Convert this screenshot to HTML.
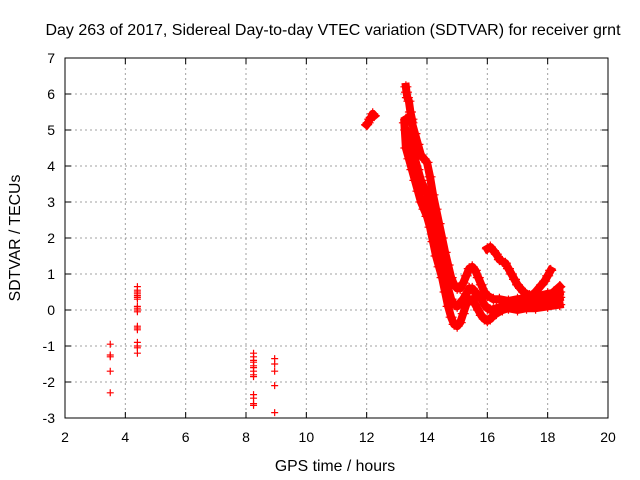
<!DOCTYPE html>
<html><head><meta charset="utf-8"><style>
body{margin:0;background:#fff}
svg{display:block;font-family:"Liberation Sans",sans-serif}
</style></head><body>
<svg id="chart" width="640" height="480">
<text x="333" y="35" text-anchor="middle" font-size="16">Day 263 of 2017, Sidereal Day-to-day VTEC variation (SDTVAR) for receiver grnt</text>
<text x="335" y="471" text-anchor="middle" font-size="15.8">GPS time / hours</text>
<text transform="translate(20,238) rotate(-90)" text-anchor="middle" font-size="15.8">SDTVAR / TECUs</text>
<g id="grid"></g><g id="ticks"></g><g id="lines"></g><g id="marks"></g>
<rect x="65" y="58" width="543" height="360" fill="none" stroke="#000" stroke-width="1"/>
</svg>
<script>
const xTicks=[2,4,6,8,10,12,14,16,18,20];
const yTicks=[-3,-2,-1,0,1,2,3,4,5,6,7];
const scatterT=[3.5,3.5,3.5,3.5,3.5,
4.4,4.4,4.4,4.4,4.4,4.4,4.4,4.4,4.4,4.4,4.4,4.4,4.4,4.4,4.4,4.4,4.4,4.4,
8.25,8.25,8.25,8.25,8.25,8.25,8.25,8.25,8.25,8.25,8.25,8.25,8.25,
8.95,8.95,8.95,8.95,8.95];
const scatterV=[-0.95,-1.25,-1.3,-1.7,-2.3,
0.65,0.55,0.5,0.45,0.4,0.35,0.3,0.1,0.05,0.0,-0.05,-0.45,-0.5,-0.55,-0.9,-1.0,-1.05,-1.2,
-1.2,-1.3,-1.4,-1.45,-1.55,-1.6,-1.7,-1.8,-1.85,-2.35,-2.45,-2.6,-2.65,
-1.35,-1.5,-1.7,-2.1,-2.85];
const trackA_T=[12.0,12.05,12.1,12.15,12.2,12.25];
const trackA_V=[5.15,5.2,5.3,5.35,5.45,5.4];
const track1_T=[13.25,13.3,13.4,13.5,13.6,13.7,13.8,13.9,14.0,14.1,14.2,14.3,14.4,14.5,14.6,14.7,14.8,14.9,15.0,15.1,15.2,15.3,15.4,15.5,15.6,15.7,15.8,15.9,16.0,16.1,16.2,16.3,16.5,16.7,17.0,17.3,17.6,18.0,18.4];
const track1_V=[5.2,4.5,4.2,3.9,3.6,3.3,3.0,2.8,2.6,2.3,1.9,1.5,1.2,0.9,0.5,0.1,-0.2,-0.4,-0.45,-0.35,-0.1,0.15,0.3,0.3,0.15,0.0,-0.15,-0.25,-0.3,-0.25,-0.15,-0.1,0.0,0.05,0.0,0.05,0.05,0.1,0.15];
const track2_T=[13.3,13.4,13.5,13.6,13.7,13.8,13.9,14.0,14.1,14.2,14.3,14.4,14.5,14.6,14.7,14.8,14.9,15.0,15.1,15.2,15.3,15.4,15.5,15.6,15.7,15.8,15.9,16.0,16.2,16.4,16.7,17.0,17.5,18.0,18.4];
const track2_V=[5.3,5.35,5.2,4.9,4.6,4.3,4.2,4.1,3.7,3.2,2.8,2.4,2.0,1.6,1.25,0.9,0.7,0.6,0.6,0.75,0.95,1.15,1.2,1.1,0.9,0.7,0.5,0.4,0.3,0.3,0.25,0.3,0.35,0.45,0.5];
const track3_T=[13.3,13.4,13.5,13.6,13.7,13.8,13.9,14.0,14.1,14.2,14.3,14.4,14.5,14.6,14.7,14.8,14.9,15.0,15.1,15.2,15.3,15.4,15.5,15.6,15.7,15.8,15.9,16.0,16.1,16.3,16.5,16.8,17.0,17.5,18.0,18.4];
const track3_V=[5.0,4.8,4.5,4.2,3.9,3.6,3.4,3.2,2.8,2.4,2.0,1.6,1.3,1.0,0.6,0.3,0.15,0.1,0.2,0.3,0.45,0.6,0.6,0.5,0.4,0.3,0.15,0.05,0.0,0.05,0.1,0.15,0.2,0.2,0.3,0.35];
const track4_T=[13.3,13.32,13.35,13.4,13.45,13.5];
const track4_V=[6.2,6.05,5.9,5.8,5.5,5.3];
const track5_T=[16.0,16.1,16.2,16.3,16.4,16.5,16.6,16.7,16.8,16.9,17.0,17.1,17.2,17.4,17.6,17.8,18.0,18.2,18.4];
const track5_V=[1.7,1.75,1.65,1.55,1.4,1.35,1.3,1.15,1.0,0.85,0.7,0.6,0.5,0.4,0.35,0.3,0.35,0.5,0.65];
const track6_T=[16.8,17.0,17.2,17.4,17.6,17.8,17.9,18.0,18.1];
const track6_V=[0.1,0.15,0.25,0.35,0.5,0.7,0.8,0.95,1.1];

const NS='http://www.w3.org/2000/svg';
const X0=65,X1=608,Y0=418,Y1=58;
function xs(t){return X0+(t-2)/(20-2)*(X1-X0);}
function ys(v){return Y0-(v+3)/(7+3)*(Y0-Y1);}
const grid=document.getElementById('grid'),ticks=document.getElementById('ticks'),lines=document.getElementById('lines'),marks=document.getElementById('marks');
function mk(tag,attrs,parent){const e=document.createElementNS(NS,tag);for(const k in attrs)e.setAttribute(k,attrs[k]);parent.appendChild(e);return e;}
xTicks.forEach(t=>{const x=xs(t);
 if(t>2&&t<20){const g=mk('line',{x1:x,x2:x,y1:Y1,y2:Y0,stroke:'#a0a0a0','stroke-dasharray':'2,3'},grid);
 
 }
 mk('line',{x1:x,x2:x,y1:Y0,y2:Y0-6,stroke:'#000'},ticks);
 mk('line',{x1:x,x2:x,y1:Y1,y2:Y1+6,stroke:'#000'},ticks);
 const l=mk('text',{x:x,y:442,'text-anchor':'middle','font-size':'14'},ticks);l.textContent=t;
 
 });
yTicks.forEach(v=>{const y=ys(v);
 if(v>-3&&v<7){const g=mk('line',{x1:X0,x2:X1,y1:y,y2:y,stroke:'#a0a0a0','stroke-dasharray':'2,3'},grid);
 
 }
 mk('line',{x1:X0,x2:X0+6,y1:y,y2:y,stroke:'#000'},ticks);
 mk('line',{x1:X1,x2:X1-6,y1:y,y2:y,stroke:'#000'},ticks);
 const l=mk('text',{x:55,y:y+5,'text-anchor':'end','font-size':'14'},ticks);l.textContent=v;
 
 });
function plus(t,v,s){const x=xs(t),y=ys(v);
 const p=mk('path',{d:`M${x-s},${y}H${x+s}M${x},${y-s}V${y+s}`,stroke:'#f00','stroke-width':'1.2'},marks);
 
 }
for(let i=0;i<scatterT.length;i++)plus(scatterT[i],scatterV[i],3.5);
[[trackA_T,trackA_V],[track1_T,track1_V],[track2_T,track2_V],[track3_T,track3_V],[track4_T,track4_V],[track5_T,track5_V],[track6_T,track6_V]].forEach(([T,V])=>{
 const pts=T.map((t,i)=>xs(t)+','+ys(V[i])).join(' ');
 const pl=mk('polyline',{points:pts,fill:'none',stroke:'#f00','stroke-width':'8','stroke-linejoin':'round','stroke-linecap':'square'},lines);
 
 
 T.forEach((t,i)=>plus(t,V[i],5.5));
});
</script>
</body></html>
